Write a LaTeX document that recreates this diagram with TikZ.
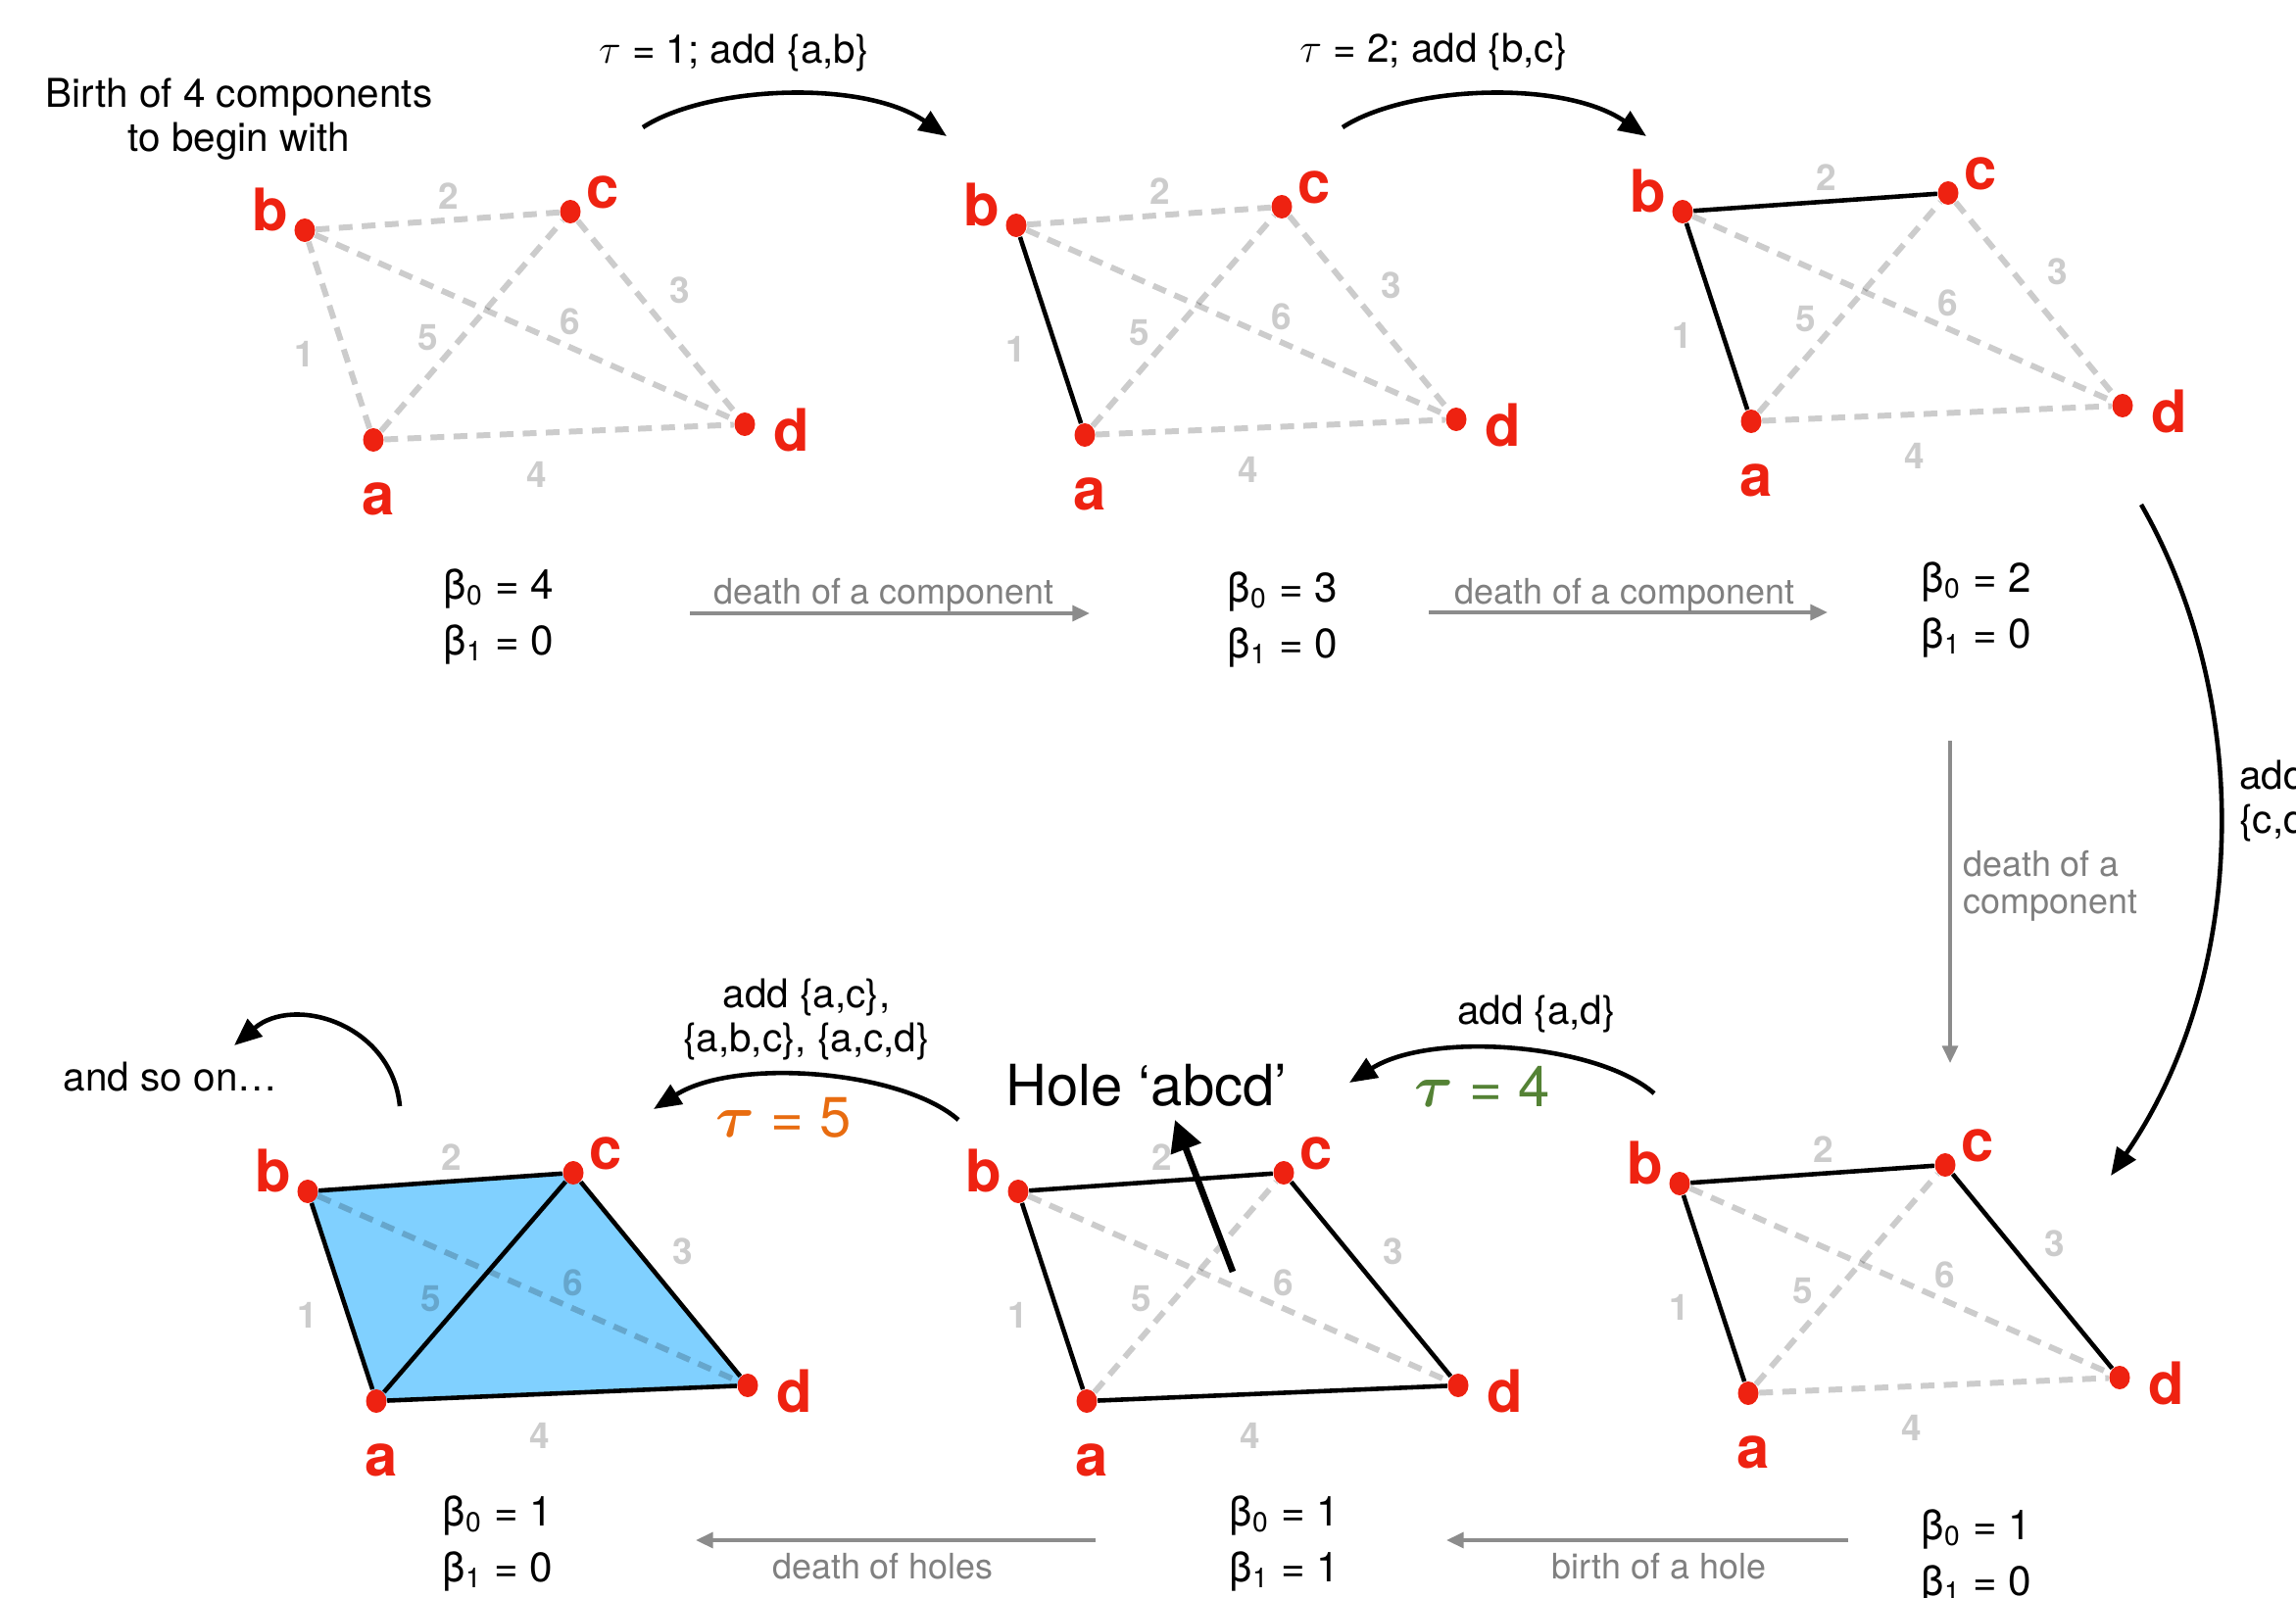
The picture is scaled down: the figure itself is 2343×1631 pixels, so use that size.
\documentclass[tikz,border=0pt]{standalone}
\usepackage{fontspec}
\setmainfont{TeX Gyre Heros}
\usetikzlibrary{arrows.meta,backgrounds,shapes.geometric}

\definecolor{dotred}{RGB}{238,34,17}
\definecolor{simplexblue}{RGB}{128,208,255}
\definecolor{taufour}{RGB}{84,130,53}
\definecolor{taufive}{RGB}{232,108,16}

\begin{document}
\begin{tikzpicture}[
  x=0.01cm, y=-0.01cm,
  vdot/.style={ellipse, fill=dotred, inner sep=0pt,
    minimum width=0.21cm, minimum height=0.24cm},
  vlab/.style={text=dotred, font=\fontsize{17}{18}\selectfont\bfseries},
  elab/.style={text=black, text opacity=0.2, font=\fontsize{10.5}{12}\selectfont\bfseries},
  gedge/.style={draw=black, draw opacity=0.2, line width=1.7pt,
    dash pattern=on 4pt off 2.7pt},
  bedge/.style={draw=black, line width=1.3pt},
  simplex/.style={fill=simplexblue},
  betti/.style={font=\fontsize{12}{14}\selectfont},
  note/.style={font=\fontsize{11.5}{12.8}\selectfont, align=center},
  gnote/.style={text=black!50, font=\fontsize{10.2}{10.8}\selectfont},
  bigtau/.style={font=\fontsize{16.5}{18}\selectfont},
  flow/.style={line width=1.3pt, -{Triangle[length=8pt,width=6.5pt]}},
  gflow/.style={draw=black!45, line width=1pt, -{Triangle[length=5pt,width=4.5pt]}},
  holearrow/.style={line width=1.9pt, -{Triangle[length=9pt,width=9pt]}},
]
\useasboundingbox (0,0) rectangle (2343,1631);

% one complex per step, panels 1..6 (tau = 0..5)
\foreach \p/\dx/\dy in {1/0/0, 2/726/-5, 3/1406/-19, 4/1403/973, 5/728/981, 6/3/981} {
  \begin{scope}[shift={(\dx,\dy)}]
    % vertices
    \node[vdot] (\p a) at (381,449) {};
    \node[vdot] (\p b) at (311,235) {};
    \node[vdot] (\p c) at (582,216) {};
    \node[vdot] (\p d) at (760,433) {};
    \node[vlab] (\p la) at (386,509) {a};
    \node[vlab] (\p lb) at (276,214) {b};
    \node[vlab] (\p lc) at (615,196) {c};
    \node[vlab] (\p ld) at (808,439) {d};
    % edge weights
    \node[elab] (\p w1) at (311,361) {1};
    \node[elab] (\p w2) at (458,200) {2};
    \node[elab] (\p w3) at (694,296) {3};
    \node[elab] (\p w4) at (548,484) {4};
    \node[elab] (\p w5) at (437,345) {5};
    \node[elab] (\p w6) at (582,328) {6};
  \end{scope}
}

% tau = 0 : no edge yet
\foreach \u/\v in {a/b,b/c,c/d,a/d,a/c,b/d} \draw[gedge] (1\u) -- (1\v);
% tau = 1 : {a,b}
\foreach \u/\v in {b/c,c/d,a/d,a/c,b/d} \draw[gedge] (2\u) -- (2\v);
\draw[bedge] (2a) -- (2b);
% tau = 2 : {b,c}
\foreach \u/\v in {c/d,a/d,a/c,b/d} \draw[gedge] (3\u) -- (3\v);
\foreach \u/\v in {a/b,b/c} \draw[bedge] (3\u) -- (3\v);
% tau = 3 : {c,d}
\foreach \u/\v in {a/d,a/c,b/d} \draw[gedge] (4\u) -- (4\v);
\foreach \u/\v in {a/b,b/c,c/d} \draw[bedge] (4\u) -- (4\v);
% tau = 4 : {a,d}, hole
\foreach \u/\v in {a/c,b/d} \draw[gedge] (5\u) -- (5\v);
\foreach \u/\v in {a/b,b/c,c/d,a/d} \draw[bedge] (5\u) -- (5\v);
% tau = 5 : triangles filled
\begin{pgfonlayer}{background}
  \fill[simplex] (6a.center) -- (6b.center) -- (6c.center) -- (6d.center) -- cycle;
\end{pgfonlayer}
\draw[gedge] (6b) -- (6d);
\foreach \u/\v in {a/b,b/c,c/d,a/d,a/c} \draw[bedge] (6\u) -- (6\v);

% Betti numbers
\foreach \p/\x/\y/\bz/\bo in {1/509/601/4/0, 2/1309/604/3/0, 3/2017/594/2/0,
                              4/2017/1561/1/0, 5/1311/1547/1/1, 6/508/1547/1/0} {
  \node[betti] (bz\p) at (\x,\y) {β\textsubscript{0} = \bz};
  \node[betti] (bo\p) at (\x,\y+57) {β\textsubscript{1} = \bo};
}

% notes
\node[note] (birth) at (244,122) {Birth of 4 components\\to begin with};
\node[note] (add1) at (749,54) {$\tau$ = 1; add \{a,b\}};
\node[note] (add2) at (1463,53) {$\tau$ = 2; add \{b,c\}};
\node[note, anchor=west, align=left] (add3) at (2273,818) {add\\\{c,d\}};
\node[note] (add4) at (1568,1035) {add \{a,d\}};
\node[bigtau, text=taufour] (tau4) at (1513,1109) {{\boldmath$\tau$} = 4};
\node[note] (add5) at (823,1041) {add \{a,c\},\\\{a,b,c\}, \{a,c,d\}};
\node[bigtau, text=taufive] (tau5) at (800,1141) {{\boldmath$\tau$} = 5};
\node[note] (soon) at (174,1099) {and so on…};
\node[bigtau] (hole) at (1170,1108) {Hole ‘abcd’};

% black step arrows
\coordinate (s1) at (656,130);   \coordinate (e1) at (966,139);
\coordinate (s2) at (1370,130);  \coordinate (e2) at (1680,139);
\coordinate (s3) at (2185,515);  \coordinate (e3) at (2154,1200);
\coordinate (s4) at (1688,1116); \coordinate (e4) at (1377,1105);
\coordinate (s5) at (978,1143);  \coordinate (e5) at (667,1132);
\coordinate (s6) at (408,1129);  \coordinate (e6) at (239,1067);
\draw[flow] (s1) .. controls (720,88) and (880,80) .. (e1);
\draw[flow] (s2) .. controls (1434,88) and (1594,80) .. (e2);
\draw[flow] (s3) .. controls (2302,720) and (2292,1000) .. (e3);
\draw[flow] (s4) .. controls (1630,1065) and (1460,1052) .. (e4);
\draw[flow] (s5) .. controls (920,1092) and (750,1079) .. (e5);
\draw[flow] (s6) .. controls (400,1045) and (300,1015) .. (e6);

% hole pointer
\coordinate (holetail) at (1258,1298);
\coordinate (holetip) at (1199,1143);
\draw[holearrow] (holetail) -- (holetip);

% grey arrows with what happens
\coordinate (g1s) at (704,626);  \coordinate (g1e) at (1112,626);
\coordinate (g2s) at (1458,625); \coordinate (g2e) at (1865,625);
\coordinate (g3s) at (1990,756); \coordinate (g3e) at (1990,1085);
\coordinate (g4s) at (1886,1572); \coordinate (g4e) at (1476,1572);
\coordinate (g5s) at (1118,1572); \coordinate (g5e) at (710,1572);
\draw[gflow] (g1s) -- (g1e);
\draw[gflow] (g2s) -- (g2e);
\draw[gflow] (g3s) -- (g3e);
\draw[gflow] (g4s) -- (g4e);
\draw[gflow] (g5s) -- (g5e);
\node[gnote] (gl1) at (902,607) {death of a component};
\node[gnote] (gl2) at (1658,607) {death of a component};
\node[gnote, anchor=west, align=left] (gl3) at (1991,904) {death of a\\component};
\node[gnote] (gl4) at (1693,1599) {birth of a hole};
\node[gnote] (gl5) at (901,1599) {death of holes};

\end{tikzpicture}
\end{document}
